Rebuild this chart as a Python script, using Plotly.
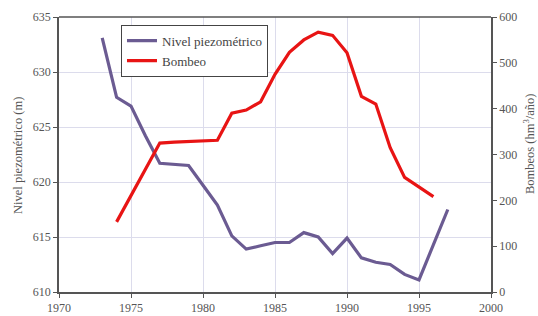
import plotly.graph_objects as go

years_nivel = [1973, 1974, 1975, 1976, 1977, 1978, 1979, 1980, 1981, 1982, 1983, 1984,
               1985, 1986, 1987, 1988, 1989, 1990, 1991, 1992, 1993, 1994, 1995, 1997]
nivel = [633.1, 627.7, 626.9, 624.2, 621.7, 621.6, 621.5, 619.7, 617.9, 615.1, 613.9, 614.2,
         614.5, 614.5, 615.4, 615.0, 613.5, 614.9, 613.1, 612.7, 612.5, 611.6, 611.1, 617.5]

years_bombeo = [1974, 1977, 1978, 1979, 1980, 1981, 1982, 1983, 1984, 1985, 1986, 1987,
                1988, 1989, 1990, 1991, 1992, 1993, 1994, 1995, 1996]
bombeo = [153, 325, 327, 328, 330, 331, 390, 397, 415, 475, 523, 550,
          567, 560, 522, 427, 410, 315, 250, 230, 208]

font_family = "Liberation Serif, DejaVu Serif, serif"
txt = "#555555"
grid = "#dcdcec"
axis_col = "#555555"

fig = go.Figure()
fig.add_trace(go.Scatter(x=years_nivel, y=nivel, name="Nivel piezométrico", mode="lines",
                         line=dict(color="#6b5b92", width=3.2), yaxis="y"))
fig.add_trace(go.Scatter(x=years_bombeo, y=bombeo, name="Bombeo", mode="lines",
                         line=dict(color="#e81414", width=3.2), yaxis="y2"))

fig.update_layout(
    width=538, height=316,
    margin=dict(l=59, r=47, t=17, b=24, autoexpand=False),
    paper_bgcolor="white", plot_bgcolor="white",
    font=dict(family=font_family, size=12, color=txt),
    showlegend=True,
    legend=dict(x=0.1435, y=0.972, xanchor="left", yanchor="top",
                bgcolor="white", bordercolor="#444444", borderwidth=1,
                font=dict(family=font_family, size=13, color="#444444"),
                tracegroupgap=0, itemwidth=30),
    xaxis=dict(range=[1970, 2000], tickvals=[1970, 1975, 1980, 1985, 1990, 1995, 2000],
               showgrid=True, gridcolor=grid, gridwidth=1, automargin=False,
               showline=True, linecolor=axis_col, linewidth=1.5, mirror=False,
               ticks="outside", ticklen=4, tickcolor=axis_col, zeroline=False,
               tickfont=dict(size=12, color=txt)),
    yaxis=dict(range=[610, 635], tickvals=[610, 615, 620, 625, 630, 635],
               showgrid=True, gridcolor=grid, gridwidth=1, automargin=False,
               showline=True, linecolor=axis_col, linewidth=1.5,
               ticks="outside", ticklen=4, tickcolor=axis_col, zeroline=False,
               tickfont=dict(size=12, color=txt)),
    yaxis2=dict(range=[0, 600], tickvals=[0, 100, 200, 300, 400, 500, 600],
                overlaying="y", side="right", showgrid=False, automargin=False,
                showline=True, linecolor=axis_col, linewidth=1.5,
                ticks="outside", ticklen=4, tickcolor=axis_col, zeroline=False,
                tickfont=dict(size=12, color=txt)),
)

# axis titles
fig.add_annotation(text="Nivel piezométrico (m)", xref="paper", yref="paper",
                   x=-0.095, y=0.498, xanchor="center", yanchor="middle", textangle=-90,
                   showarrow=False, font=dict(size=12.5, color=txt))
fig.add_annotation(text="Bombeos (hm<sup>3</sup>/año)", xref="paper", yref="paper",
                   x=1.088, y=0.538, xanchor="center", yanchor="middle", textangle=-90,
                   showarrow=False, font=dict(size=12.5, color=txt))

# top frame line
fig.add_shape(type="line", xref="paper", yref="paper", x0=0, x1=1, y0=1, y1=1,
              line=dict(color=axis_col, width=1.5))

fig.write_html("out.html", config={"displayModeBar": False},
               post_script="document.body.style.margin='0';document.body.style.overflow='hidden';")
